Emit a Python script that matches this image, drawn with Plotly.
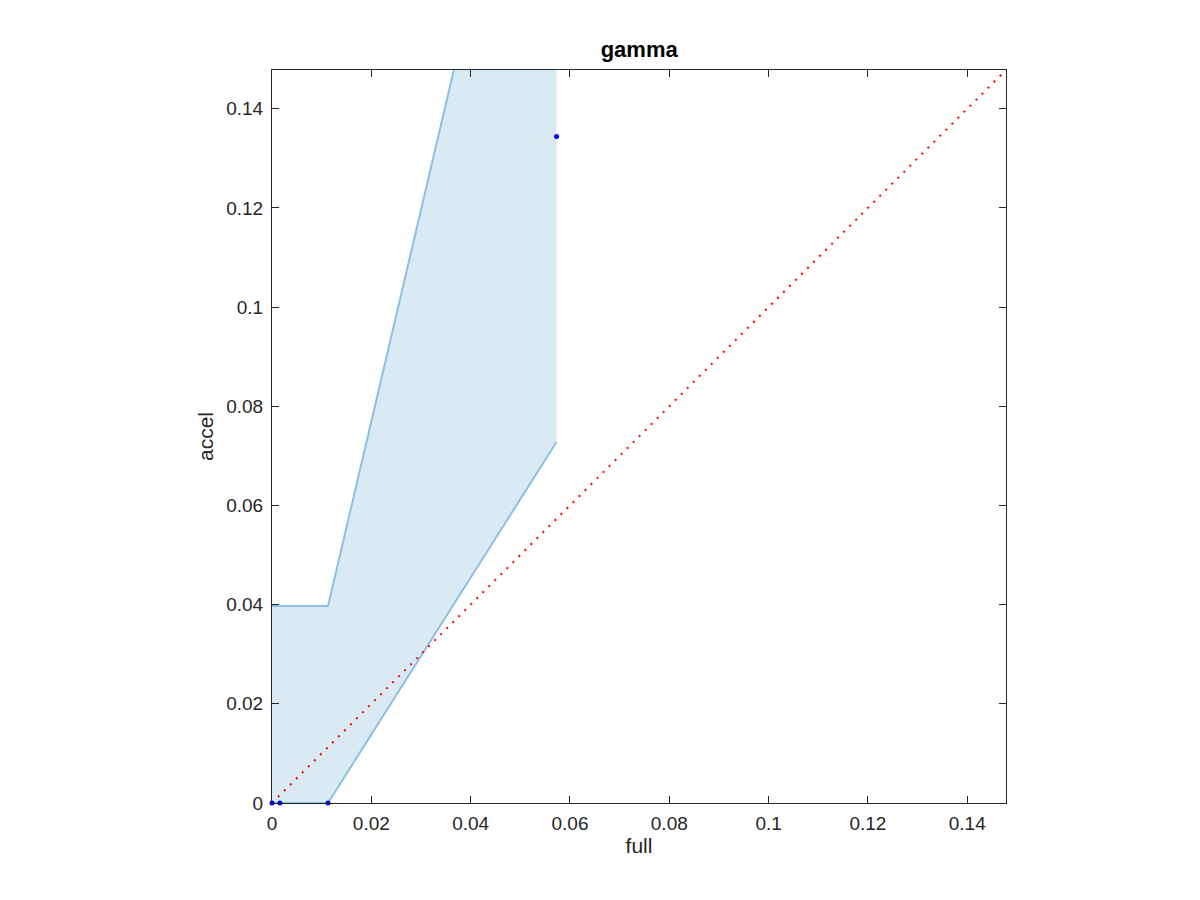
import plotly.graph_objects as go

# Data
band_x = [0.0, 0.0016, 0.01127, 0.0573]
band_lower = [0.0, 0.0, 0.0, 0.0728]
band_upper = [0.0397, 0.0397, 0.0397, 0.236]
point_x = [0.0, 0.0016, 0.01127, 0.0573]
point_y = [0.0, 0.0, 0.0, 0.1344]
axis_max = 0.1478
diag = [0.0, axis_max]
tick_vals = [0, 0.02, 0.04, 0.06, 0.08, 0.1, 0.12, 0.14]
tick_text = ["0", "0.02", "0.04", "0.06", "0.08", "0.1", "0.12", "0.14"]

fill_col = "rgba(0,114,189,0.15)"
line_col = "#8DBFE0"
FONT = "Liberation Sans, Arial, Helvetica"

fig = go.Figure()
# shaded band
fig.add_trace(go.Scatter(
    x=band_x + band_x[::-1], y=band_lower + band_upper[::-1],
    fill="toself", fillcolor=fill_col, mode="lines",
    line=dict(width=0, color="rgba(0,0,0,0)"), hoverinfo="skip", showlegend=False))
fig.add_trace(go.Scatter(x=band_x, y=band_upper, mode="lines",
                         line=dict(color=line_col, width=2), showlegend=False))
fig.add_trace(go.Scatter(x=band_x, y=band_lower, mode="lines",
                         line=dict(color=line_col, width=2), showlegend=False))
# diagonal
fig.add_trace(go.Scatter(x=diag, y=diag, mode="lines",
                         line=dict(color="red", width=2, dash="2px,6.5px"), showlegend=False))
# points
fig.add_trace(go.Scatter(x=point_x, y=point_y, mode="markers",
                         marker=dict(color="blue", size=5), cliponaxis=False, showlegend=False))

axis_common = dict(
    range=[0, axis_max], tickvals=tick_vals, ticktext=tick_text,
    ticks="inside", ticklen=7, tickcolor="#262626", tickwidth=1,
    showline=True, linecolor="#262626", linewidth=1, mirror="allticks",
    showgrid=False, zeroline=False,
    tickfont=dict(family=FONT, size=19, color="#262626"),
)
fig.update_xaxes(**axis_common, ticklabelstandoff=3,
                 title=dict(text="full", font=dict(family=FONT, size=21, color="#262626"), standoff=2))
fig.update_yaxes(**axis_common, ticklabelstandoff=4,
                 title=dict(text="accel", font=dict(family=FONT, size=21, color="#262626"), standoff=6))

fig.update_layout(
    width=1200, height=900,
    margin=dict(l=264, r=202, t=62, b=105),
    plot_bgcolor="white", paper_bgcolor="white",
    title=dict(text="<b>gamma</b>", x=0.526, xanchor="center", y=0.9544, yanchor="middle",
               font=dict(family=FONT, size=22, color="black")),
)

fig.write_html("out.html")
